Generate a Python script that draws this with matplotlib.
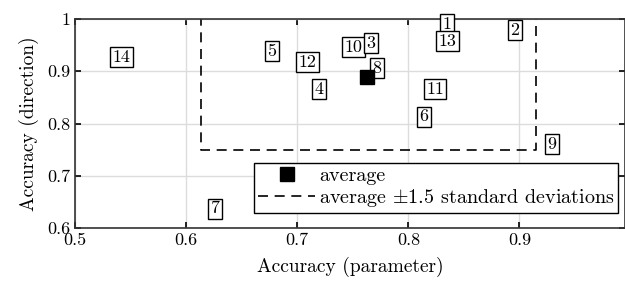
import matplotlib
matplotlib.use('Agg')
import matplotlib.pyplot as plt
import numpy as np

plt.rcParams['font.family'] = 'serif'
plt.rcParams['font.serif'] = ['cmr10', 'DejaVu Serif']
plt.rcParams['mathtext.fontset'] = 'cm'
plt.rcParams['axes.formatter.use_mathtext'] = True
plt.rcParams['font.size'] = 13

# data
labels = ['14', '5', '12', '4', '10', '3', '8', '1', '13', '2', '11', '6', '9', '7']
acc_param = [0.542, 0.677, 0.709, 0.720, 0.751, 0.766, 0.772, 0.835, 0.835, 0.896, 0.824, 0.814, 0.929, 0.626]
acc_dir = [0.927, 0.939, 0.918, 0.866, 0.946, 0.954, 0.906, 0.990, 0.958, 0.979, 0.866, 0.813, 0.761, 0.637]
avg = (0.763, 0.889)
box_x = (0.613, 0.915)
box_y = (0.750, 1.05)

xticks = [0.5, 0.6, 0.7, 0.8, 0.9]
yticks = [0.6, 0.7, 0.8, 0.9, 1.0]
ytick_labels = ['0.6', '0.7', '0.8', '0.9', '1']

fig = plt.figure(figsize=(6.25, 2.84), dpi=100)
ax = fig.add_axes([0.12, 0.197, 0.88, 0.736])

ax.grid(True, color='#dcdcdc', linewidth=1.0, zorder=0)
ax.set_axisbelow(True)

for lab, x, y in zip(labels, acc_param, acc_dir):
    ax.text(x, y, lab, ha='center', va='center', fontsize=13, zorder=3,
            bbox=dict(boxstyle='square,pad=0.14', fc='white', ec='black', lw=1.0))

ax.plot(avg[0], avg[1], 's', color='black', markersize=10, zorder=5, label='average')
ax.plot([box_x[0], box_x[0], box_x[1], box_x[1]], [box_y[1], box_y[0], box_y[0], box_y[1]],
        '--', color='black', lw=1.2, dashes=(6, 4), zorder=2,
        label=r'average $\pm$1.5 standard deviations')

ax.set_xlim(0.5, 0.995)
ax.set_ylim(0.6, 1.0)
ax.set_xticks(xticks)
ax.set_xticklabels(['0.5', '0.6', '0.7', '0.8', '0.9'])
ax.set_yticks(yticks)
ax.set_yticklabels(ytick_labels)
ax.tick_params(direction='in', top=True, right=True, length=4, width=1.2, labelsize=13)
for s in ax.spines.values():
    s.set_linewidth(1.2)
    s.set_color('#333333')

ax.set_xlabel('Accuracy (parameter)', fontsize=14, labelpad=6)
ax.set_ylabel('Accuracy (direction)', fontsize=14, labelpad=6)

leg = ax.legend(loc='lower right', bbox_to_anchor=(0.988, 0.072), fancybox=False,
                edgecolor='black', framealpha=1, fontsize=14.5, borderpad=0.2,
                labelspacing=0.1, handlelength=2.8, handletextpad=0.2, borderaxespad=0)
leg.get_frame().set_linewidth(1.0)
leg.set_zorder(10)

fig.savefig('out.png', dpi=100)
